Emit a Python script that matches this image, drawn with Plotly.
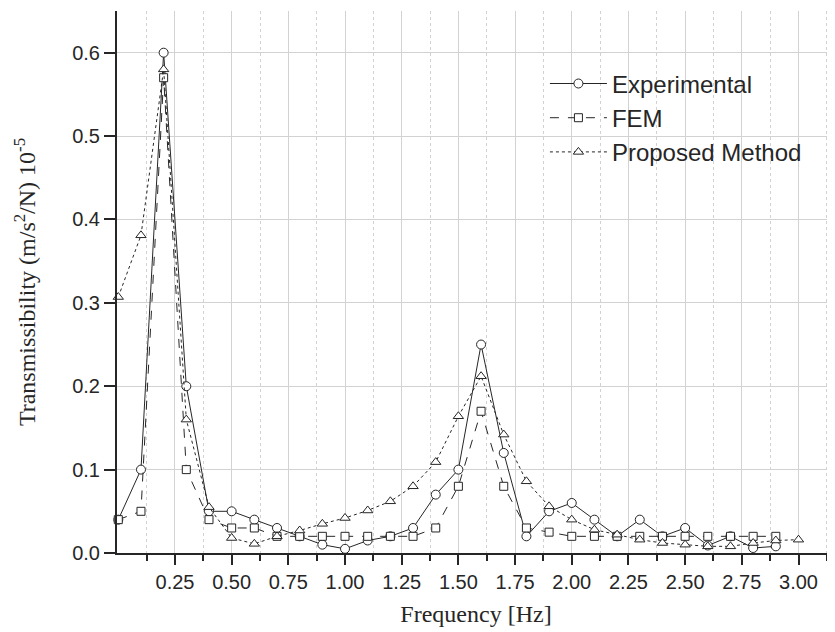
import plotly.graph_objects as go

freq_exp = [0.0, 0.1, 0.2, 0.3, 0.4, 0.5, 0.6, 0.7, 0.8, 0.9, 1.0, 1.1, 1.2, 1.3, 1.4,
            1.5, 1.6, 1.7, 1.8, 1.9, 2.0, 2.1, 2.2, 2.3, 2.4, 2.5, 2.6, 2.7, 2.8, 2.9]
experimental = [0.04, 0.10, 0.60, 0.20, 0.05, 0.05, 0.04, 0.03, 0.02, 0.01, 0.005, 0.015,
                 0.02, 0.03, 0.07, 0.10, 0.25, 0.12, 0.02, 0.05, 0.06, 0.04, 0.02, 0.04,
                 0.02, 0.03, 0.009, 0.02, 0.006, 0.008]

freq_fem = [0.0, 0.1, 0.2, 0.3, 0.4, 0.5, 0.6, 0.7, 0.8, 0.9, 1.0, 1.1, 1.2, 1.3, 1.4,
            1.5, 1.6, 1.7, 1.8, 1.9, 2.0, 2.1, 2.2, 2.3, 2.4, 2.5, 2.6, 2.7, 2.8, 2.9]
fem = [0.04, 0.05, 0.57, 0.10, 0.04, 0.03, 0.03, 0.02, 0.02, 0.02, 0.02, 0.02,
       0.02, 0.02, 0.03, 0.08, 0.17, 0.08, 0.03, 0.025, 0.02, 0.02, 0.02, 0.02,
       0.02, 0.02, 0.02, 0.02, 0.02, 0.02]

freq_prop = [0.0, 0.1, 0.2, 0.3, 0.4, 0.5, 0.6, 0.7, 0.8, 0.9, 1.0, 1.1, 1.2, 1.3, 1.4,
             1.5, 1.6, 1.7, 1.8, 1.9, 2.0, 2.1, 2.2, 2.3, 2.4, 2.5, 2.6, 2.7, 2.8, 2.9, 3.0]
proposed = [0.307, 0.381, 0.58, 0.16, 0.055, 0.018, 0.011, 0.02, 0.027, 0.035, 0.042, 0.051,
            0.062, 0.08, 0.109, 0.164, 0.212, 0.142, 0.086, 0.056, 0.04, 0.028, 0.022, 0.016,
            0.012, 0.010, 0.008, 0.008, 0.012, 0.015, 0.016]

x_tickvals = [0.25, 0.50, 0.75, 1.00, 1.25, 1.50, 1.75, 2.00, 2.25, 2.50, 2.75, 3.00]
x_ticktext = ["0.25", "0.50", "0.75", "1.00", "1.25", "1.50", "1.75", "2.00", "2.25", "2.50", "2.75", "3.00"]
y_tickvals = [0.0, 0.1, 0.2, 0.3, 0.4, 0.5, 0.6]
y_ticktext = ["0.0", "0.1", "0.2", "0.3", "0.4", "0.5", "0.6"]

INK = "#262626"
GRID = "#d2d2d2"

fig = go.Figure()

def add(x, y, name, dash, symbol, size):
    fig.add_trace(go.Scatter(
        x=x, y=y, name=name, mode="lines+markers", cliponaxis=False,
        line=dict(color=INK, width=1, dash=dash),
        marker=dict(symbol=symbol, size=size, color="white", line=dict(color=INK, width=1)),
    ))

add(freq_exp, experimental, "Experimental", "solid", "circle", 9)
add(freq_fem, fem, "FEM", "dash", "square", 8)
add(freq_prop, proposed, "Proposed Method", "dot", "triangle-up", 9)

# page body has an 8px margin; figure is sized/offset to compensate
fig.update_layout(
    width=827, height=624,
    margin=dict(l=109, r=0, t=3, b=79),
    paper_bgcolor="white", plot_bgcolor="white",
    font=dict(family="Liberation Sans, Arial, sans-serif", size=20, color=INK),
    showlegend=True,
    legend=dict(
        x=0.596, y=0.907, xanchor="left", yanchor="top",
        bgcolor="rgba(0,0,0,0)", borderwidth=0,
        font=dict(family="Liberation Sans, Arial, sans-serif", size=24, color=INK),
        itemwidth=57, tracegroupgap=0,
    ),
)

fig.update_xaxes(
    range=[-0.0057, 3.161], automargin=False,
    tickmode="array", tickvals=x_tickvals, ticktext=x_ticktext,
    ticks="outside", ticklen=10, tickwidth=2, tickcolor=INK,
    showline=True, linewidth=2, linecolor=INK,
    showgrid=True, gridcolor=GRID, gridwidth=1,
    zeroline=False,
    minor=dict(tickmode="linear", tick0=0.125, dtick=0.25, ticks="outside", ticklen=6,
               tickwidth=2, tickcolor=INK, showgrid=True, gridcolor=GRID, griddash="dot", gridwidth=1),
    tickfont=dict(family="Liberation Sans, Arial, sans-serif", size=20, color=INK),
    title=dict(text="Frequency [Hz]", standoff=13,
               font=dict(family="Liberation Serif, Times New Roman, serif", size=24, color=INK)),
)

fig.update_yaxes(
    range=[0, 0.65], automargin=False,
    tickmode="array", tickvals=y_tickvals, ticktext=y_ticktext,
    ticks="outside", ticklen=11, tickwidth=2, tickcolor=INK,
    showline=True, linewidth=2, linecolor=INK,
    showgrid=True, gridcolor=GRID, gridwidth=1,
    zeroline=False,
    tickfont=dict(family="Liberation Sans, Arial, sans-serif", size=20, color=INK),
    title=dict(text="Transmissibility (m/s<sup>2</sup>/N) 10<sup>-5</sup>", standoff=30,
               font=dict(family="Liberation Serif, Times New Roman, serif", size=24, color=INK)),
)

fig.write_html("out.html")
